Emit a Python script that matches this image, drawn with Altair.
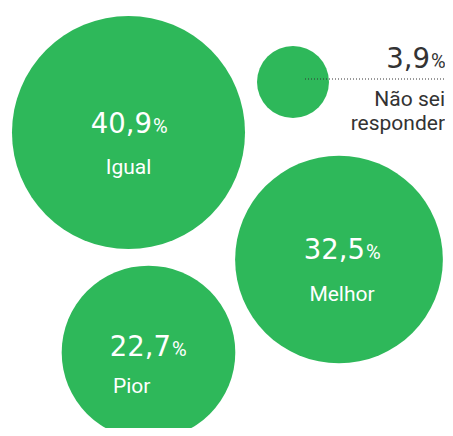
import altair as alt
import pandas as pd

# ---- data ----
categories = ["Igual", "Melhor", "Pior", "Não sei responder"]
values = [40.9, 32.5, 22.7, 3.9]
label_lines = [["Igual"], ["Melhor"], ["Pior"], ["Não sei", "responder"]]

# ---- layout (page pixel coordinates) ----
center_x = [128.5, 339, 148.5, 293]
center_y = [132.5, 259.5, 352.5, 82]
num_right_x = [152, 365, 171, 430]
num_base_y = [133, 259, 356, 68]
label_x = [128.5, 342, 113, 445]
label_y = [174, 301, 393, 106]
label_step = 24
label_align = ["center", "center", "left", "right"]
text_color = ["white", "white", "white", "#333333"]
GREEN = "#2eb85a"

W, H = 437, 420
xs = alt.Scale(domain=[8, 8 + W], range=[0, W])
ys = alt.Scale(domain=[8, 8 + H], range=[0, H])

circles_df = pd.DataFrame({"cat": categories, "value": values, "cx": center_x, "cy": center_y})

num_df = pd.DataFrame({
    "num": [f"{v:.1f}".replace(".", ",") for v in values],
    "nx": num_right_x,
    "px": [x + 1 for x in num_right_x],
    "ny": num_base_y,
    "color": text_color,
})

lab_rows = []
for i, lines in enumerate(label_lines):
    for j, line in enumerate(lines):
        lab_rows.append({"txt": line, "lx": label_x[i], "ly": label_y[i] + j * label_step,
                         "align": label_align[i], "color": text_color[i]})
lab_df = pd.DataFrame(lab_rows)

rule_df = pd.DataFrame({"x1": [305], "x2": [450], "y": [79]})

# Vega circle: radius = sqrt(size)/2 -> size = 4 r^2 ; r(100%) ~ 182.2 px
circles = alt.Chart(circles_df).mark_circle(opacity=1, color=GREEN, strokeWidth=0).encode(
    x=alt.X("cx:Q", scale=xs, axis=None),
    y=alt.Y("cy:Q", scale=ys, axis=None),
    size=alt.Size("value:Q", scale=alt.Scale(type="linear", domain=[0, 100], range=[0, 132787]), legend=None),
)

rule = alt.Chart(rule_df).mark_rule(color="#333333", strokeDash=[1, 2], strokeWidth=1).encode(
    x=alt.X("x1:Q", scale=xs, axis=None),
    x2="x2:Q",
    y=alt.Y("y:Q", scale=ys, axis=None),
)

nums = alt.Chart(num_df).mark_text(align="right", baseline="alphabetic", font="DejaVu Sans", fontSize=27.5).encode(
    x=alt.X("nx:Q", scale=xs, axis=None),
    y=alt.Y("ny:Q", scale=ys, axis=None),
    text="num:N",
    color=alt.Color("color:N", scale=None),
)

pcts = alt.Chart(num_df).mark_text(align="left", baseline="alphabetic", font="Roboto", fontSize=20, text="%").encode(
    x=alt.X("px:Q", scale=xs, axis=None),
    y=alt.Y("ny:Q", scale=ys, axis=None),
    color=alt.Color("color:N", scale=None),
)

labels = []
for al in ["center", "left", "right"]:
    labels.append(
        alt.Chart(lab_df).transform_filter(alt.datum.align == al)
        .mark_text(align=al, baseline="alphabetic", font="Roboto", fontSize=21)
        .encode(
            x=alt.X("lx:Q", scale=xs, axis=None),
            y=alt.Y("ly:Q", scale=ys, axis=None),
            text="txt:N",
            color=alt.Color("color:N", scale=None),
        )
    )

chart = alt.layer(circles, rule, nums, pcts, *labels).properties(
    width=W, height=H, padding=0, autosize="none"
).configure_view(stroke=None)

chart.save("out.html", embed_options={"renderer": "svg", "actions": False})
